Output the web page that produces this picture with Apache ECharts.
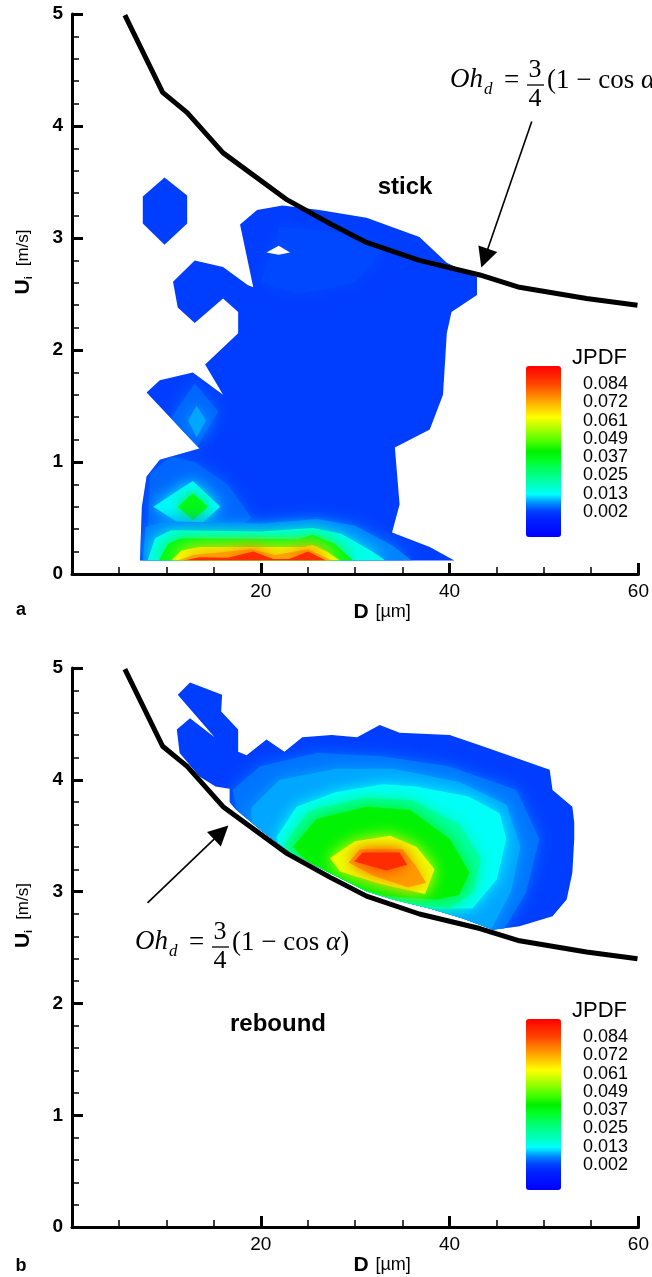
<!DOCTYPE html>
<html style="height: 100%">
<head>
    <meta charset="UTF-8">
    <script type="text/javascript" src="https://cdn.jsdelivr.net/npm/echarts/dist/echarts.min.js"></script>
</head>
<body style="height: 100%; margin: 0; background: #fff">
<div id="container" style="width: 652px; height: 1277px;"></div>
<script type="text/javascript">
// boundary Oh_d = 3/4 (1 - cos a), same curve in both panels
var boundaryD = [5.6, 9.6, 12.2, 16.0, 22.8, 27.3, 31.2, 36.8, 43.2, 47.4, 54.5, 59.9];
var boundaryU = [4.99, 4.30, 4.12, 3.76, 3.34, 3.13, 2.96, 2.80, 2.67, 2.56, 2.46, 2.40];

// legend ticks
var legendTicks = ['0.084', '0.072', '0.061', '0.049', '0.037', '0.025', '0.013', '0.002'];
var legendMin = -0.014, legendMax = 0.0955;

// ---- panel a: JPDF contour regions [D, U] ----
var aMain = [[7.2,0.12],[7.4,0.60],[7.9,0.87],[9.3,1.02],[13.5,1.12],[7.9,1.62],[9.3,1.73],[12.8,1.80],
    [16.0,1.60],[14.1,1.87],[17.6,2.15],[17.6,2.34],[16.0,2.46],[13.0,2.24],[11.2,2.38],[10.7,2.61],
    [13.0,2.80],[16.0,2.74],[18.6,2.58],[19.2,2.56],[17.8,3.12],[19.6,3.25],[22.3,3.29],[26.2,3.25],
    [31.2,3.18],[36.8,3.01],[39.7,2.78],[42.9,2.65],[42.9,2.49],[40.2,2.34],[39.7,2.15],[39.3,1.60],
    [37.9,1.29],[34.2,1.13],[34.7,0.62],[33.9,0.37],[37.9,0.24],[40.5,0.12]];
var aIsland = [[9.8,3.54],[12.2,3.38],[12.2,3.13],[9.8,2.94],[7.5,3.13],[7.5,3.37]];
var aTopLight = [[20,2.6],[22,3.1],[28,3.05],[33,2.9],[30,2.6],[24,2.5]];
var aLeftLight = [[8,0.3],[8.3,0.9],[10.5,1.05],[13,1.0],[16.5,0.8],[19,0.5],[17,0.38],[10,0.32]];
var aSpotLight = [[10.5,1.4],[13,1.7],[15.5,1.45],[13,1.1]];
var aSpot = [[12.3,1.37],[13.2,1.5],[14.2,1.37],[13.2,1.22]];
var aDiamondCyan = [[8.6,0.6],[12.8,0.83],[15.7,0.6],[12.8,0.38]];
var aDiamondGreen = [[11.2,0.6],[12.8,0.72],[14.4,0.6],[12.8,0.48]];
var aBandLight = [[7.5,0.12],[7.8,0.42],[10,0.47],[20,0.45],[26,0.49],[30,0.43],[34,0.25],[36,0.12]];
var aBandCyan = [[8.0,0.12],[8.8,0.32],[10.5,0.39],[20,0.38],[25.5,0.41],[28.5,0.36],[31.8,0.2],[33.2,0.12]];
var aBandGreen = [[9.2,0.12],[10.2,0.27],[11.6,0.32],[24,0.31],[25.5,0.35],[27.8,0.27],[29.8,0.12]];
var aBandYellow = [[10.5,0.12],[11.6,0.21],[13.5,0.24],[24.5,0.24],[25.5,0.26],[27,0.2],[28.4,0.12]];
var aBandOrange = [[11.2,0.12],[12.8,0.17],[19,0.22],[21.5,0.17],[25,0.22],[27.5,0.12]];
var aBandRed = [[11.8,0.12],[13.5,0.15],[16.5,0.145],[19.2,0.2],[21.3,0.135],[23,0.135],[25,0.2],[26.9,0.12]];
var aHole = [[20.6,2.87],[21.9,2.93],[23.1,2.87],[21.9,2.85]];

var polysA = [aMain, aIsland, aTopLight, aLeftLight, aSpotLight, aSpot, aDiamondCyan, aDiamondGreen,
    aBandLight, aBandCyan, aBandGreen, aBandYellow, aBandOrange, aBandRed];
var levelsA = [0.002, 0.002, 0.003, 0.005, 0.005, 0.009, 0.013, 0.037, 0.007, 0.015, 0.037, 0.061, 0.072, 0.088];
var clipA = [-1, -1, 0, 0, 0, 0, 0, 0, 0, 0, 0, 0, 0, 0];

// ---- panel b ----
var bMain = [[13.5,4.03],[11.4,4.24],[11.1,4.45],[12.5,4.55],[15.1,4.38],[11.2,4.76],[12.5,4.87],[15.9,4.76],
    [15.8,4.61],[17.6,4.45],[17.6,4.25],[18.5,4.22],[20.6,4.36],[22.5,4.25],[24.4,4.38],[27.5,4.40],
    [30.2,4.38],[32.6,4.49],[34.7,4.42],[40.0,4.40],[43.5,4.30],[50.6,4.09],[50.9,3.91],[53.0,3.76],
    [53.2,3.62],[53.2,3.47],[53.0,3.17],[52.4,2.93],[50.9,2.78],[47.4,2.69],[44.6,2.66],[41.4,2.76],
    [37.9,2.85],[34.0,2.93],[31.3,3.00],[27.0,3.18],[23.1,3.35],[20.0,3.55],[17.3,3.74],[16.7,3.80],
    [16.7,3.92],[15.2,3.94]];
var bLight = [[17.0,3.91],[19.9,4.12],[25.9,4.24],[32.9,4.21],[40,4.12],[47.1,3.91],[49.5,3.47],[48.1,2.99],
    [45.3,2.6],[30,2.8],[18,3.5]];
var bMid = [[19,3.75],[22,4.0],[28,4.1],[34,4.1],[41,3.98],[46,3.78],[47.5,3.4],[46.5,3.0],[44,2.6],[30,2.8],[19,3.5]];
var bCyan = [[21.7,3.49],[23.8,3.76],[28,3.89],[32.9,3.96],[36.5,3.94],[42,3.85],[45.3,3.7],[46.0,3.47],
    [45.0,3.11],[42.4,2.85],[35,2.85],[28,3.1],[22,3.35]];
var bAqua = [[22.5,3.42],[25,3.72],[31,3.84],[36,3.82],[41,3.6],[43.3,3.3],[42.5,3.0],[40,2.85],[30,2.95],[23,3.3]];
var bGreen = [[23.4,3.40],[25.9,3.65],[31.2,3.76],[35.8,3.73],[40.0,3.47],[42.1,3.17],[41,2.97],[38.6,2.93],
    [33.3,2.96],[27,3.1]];
var bYellow = [[27.3,3.30],[30,3.45],[33.7,3.5],[36.5,3.4],[38.4,3.20],[37.4,2.98],[32.6,3.07],[28.4,3.18]];
var bOrange = [[29.3,3.26],[30.5,3.38],[35,3.38],[36.5,3.22],[37.5,3.08],[35.6,3.04],[32,3.14]];
var bRed = [[29.9,3.27],[30.8,3.35],[34.7,3.35],[35.5,3.24],[33.3,3.19]];

var polysB = [bMain, bLight, bMid, bCyan, bAqua, bGreen, bYellow, bOrange, bRed];
var levelsB = [0.002, 0.006, 0.009, 0.014, 0.022, 0.04, 0.061, 0.074, 0.088];
var clipB = [-1, 0, 0, 0, 0, 0, 0, 0, 0];

var jpdfColors = ['#0000ff', '#0010ff', '#0020ff', '#0040ff', '#0090ff', '#00ffff', '#00ffc0', '#00ff90',
    '#00ff60', '#00ff20', '#00f000', '#40ff00', '#80ff00', '#c0ff00', '#ffff00', '#ffd000', '#ffa000',
    '#ff7000', '#ff4000', '#ff2000', '#ff0000'];

function toItems(levels, clips) {
    return levels.map(function (lv, i) { return [lv, i, clips[i]]; });
}

function makeRender(polys) {
    return function (params, api) {
        var idx = api.value(1), c = api.value(2);
        var pts = polys[idx].map(function (p) { return api.coord(p); });
        var color = api.visual('color');
        var el = {type: 'polygon', shape: {points: pts}, style: {fill: color}};
        if (c >= 0) {
            el.style.shadowBlur = 16;
            el.style.shadowColor = color;
            el.clipPath = {type: 'polygon', shape: {points: polys[c].map(function (p) { return api.coord(p); })}};
        }
        return el;
    };
}

function holeRender(poly) {
    return function (params, api) {
        return {type: 'polygon', shape: {points: poly.map(function (p) { return api.coord(p); })},
            style: {fill: '#fff'}};
    };
}

var boundary = boundaryD.map(function (d, i) { return [d, boundaryU[i]]; });

function xAxisOpt(gi) {
    return {
        gridIndex: gi, type: 'value', min: 0, max: 60, interval: 20,
        name: '{b|D}  {n|[µm]}', nameLocation: 'middle', nameGap: 24,
        nameTextStyle: {padding: [0, 0, 0, 54], rich: {
            b: {fontFamily: 'Liberation Sans', fontWeight: 'bold', fontSize: 21, color: '#000'},
            n: {fontFamily: 'Liberation Sans', fontSize: 18, color: '#000'}}},
        axisLine: {lineStyle: {color: '#000', width: 3}},
        axisTick: {inside: true, length: 11, lineStyle: {color: '#000', width: 3}},
        minorTick: {show: true, splitNumber: 4, length: 7, lineStyle: {color: '#000', width: 1.5}},
        splitLine: {show: false}, minorSplitLine: {show: false},
        axisLabel: {color: '#000', fontSize: 19, fontFamily: 'Liberation Sans', margin: 8,
            formatter: function (v) { return v === 0 ? '' : v; }}
    };
}

function yAxisOpt(gi) {
    return {
        gridIndex: gi, type: 'value', min: 0, max: 5, interval: 1,
        name: '{b|U}{s|i}   {n|[m/s]}', nameLocation: 'middle', nameRotate: 90, nameGap: 38,
        nameTextStyle: {padding: [0, 0, 0, 64], rich: {
            b: {fontFamily: 'Liberation Sans', fontWeight: 'bold', fontSize: 21, color: '#000'},
            s: {fontFamily: 'Liberation Sans', fontWeight: 'bold', fontSize: 11, color: '#000', verticalAlign: 'bottom'},
            n: {fontFamily: 'Liberation Sans', fontSize: 17, color: '#000'}}},
        axisLine: {lineStyle: {color: '#000', width: 3}},
        axisTick: {inside: true, length: 11, lineStyle: {color: '#000', width: 3}},
        minorTick: {show: true, splitNumber: 5, length: 7, lineStyle: {color: '#000', width: 1.5}},
        splitLine: {show: false}, minorSplitLine: {show: false},
        axisLabel: {color: '#000', fontSize: 19, fontWeight: 'bold', fontFamily: 'Liberation Sans', margin: 9}
    };
}

function visualMapOpt(si, top) {
    return {
        type: 'continuous', seriesIndex: si, dimension: 0, min: legendMin, max: legendMax,
        left: 526, top: top, itemWidth: 35, itemHeight: 171, padding: 0,
        calculable: false, hoverLink: false, showLabel: false, text: null,
        inRange: {color: jpdfColors}
    };
}

function text(x, y, str, font, align) {
    return {type: 'text', x: x, y: y, silent: true,
        style: {text: str, font: font, fill: '#000', align: align || 'center', verticalAlign: 'middle'}};
}

function legendText(top) {
    var els = [text(572, top - 8, 'JPDF', '22px "Liberation Sans"', 'left')];
    legendTicks.forEach(function (t, i) {
        els.push(text(583, top + 18 + i * 18.3, t, '18px "Liberation Sans"', 'left'));
    });
    return els;
}

function formula(x, y) {
    var serif = '"Liberation Serif", "DejaVu Serif", serif';
    return {
        type: 'group', x: x, y: y, silent: true,
        children: [
            {type: 'text', x: 0, y: -4, style: {text: 'Oh', font: 'italic 27px ' + serif, fill: '#000', verticalAlign: 'middle'}},
            {type: 'text', x: 34, y: 6, style: {text: 'd', font: 'italic 17px ' + serif, fill: '#000', verticalAlign: 'middle'}},
            {type: 'text', x: 54, y: -3, style: {text: '=', font: '27px ' + serif, fill: '#000', verticalAlign: 'middle'}},
            {type: 'text', x: 85, y: -14, style: {text: '3', font: '26px ' + serif, fill: '#000', align: 'center', verticalAlign: 'middle'}},
            {type: 'line', shape: {x1: 77, y1: 1, x2: 94, y2: 1}, style: {stroke: '#000', lineWidth: 1.3}},
            {type: 'text', x: 85, y: 15, style: {text: '4', font: '26px ' + serif, fill: '#000', align: 'center', verticalAlign: 'middle'}},
            {type: 'text', x: 97, y: -3, style: {text: '(1 − cos {a|α})', font: '27px ' + serif, fill: '#000', verticalAlign: 'middle',
                rich: {a: {fontStyle: 'italic', fontSize: 27, fontFamily: 'Liberation Serif'}}}}
        ]
    };
}

function arrowLine(from, to) {
    return {
        silent: true, symbol: ['none', 'triangle'], symbolSize: 20,
        lineStyle: {color: '#000', width: 1.6, type: 'solid'}, itemStyle: {color: '#000'},
        label: {show: false},
        data: [[{coord: from}, {coord: to}]]
    };
}

var option = {
    animation: false,
    backgroundColor: '#fff',
    grid: [
        {left: 72, top: 14, right: 13, height: 560, containLabel: false},
        {left: 72, top: 668, right: 13, height: 561, containLabel: false}
    ],
    xAxis: [xAxisOpt(0), xAxisOpt(1)],
    yAxis: [yAxisOpt(0), yAxisOpt(1)],
    visualMap: [visualMapOpt(0, 366), visualMapOpt(1, 1019)],
    series: [
        {type: 'custom', xAxisIndex: 0, yAxisIndex: 0, renderItem: makeRender(polysA),
            data: toItems(levelsA, clipA), silent: true, z: 2},
        {type: 'custom', xAxisIndex: 1, yAxisIndex: 1, renderItem: makeRender(polysB),
            data: toItems(levelsB, clipB), silent: true, z: 2},
        {type: 'custom', xAxisIndex: 0, yAxisIndex: 0, renderItem: holeRender(aHole),
            data: [[0, 0]], silent: true, z: 3},
        {type: 'line', xAxisIndex: 0, yAxisIndex: 0, data: boundary, symbol: 'none', z: 5,
            lineStyle: {color: '#000', width: 5}, silent: true,
            markLine: arrowLine([48.7, 4.04], [43.7, 2.82])},
        {type: 'line', xAxisIndex: 1, yAxisIndex: 1, data: boundary, symbol: 'none', z: 5,
            lineStyle: {color: '#000', width: 5}, silent: true,
            markLine: arrowLine([8.0, 2.90], [15.8, 3.53])}
    ],
    graphic: [].concat(
        [
            text(405, 187, 'stick', 'bold 24px "Liberation Sans"'),
            text(277, 370, 'rebound', 'bold 28px "Liberation Sans"'),
            text(407, 840, 'stick', 'bold 29px "Liberation Sans"'),
            text(278, 1024, 'rebound', 'bold 24px "Liberation Sans"'),
            text(21, 610, 'a', 'bold 18px "Liberation Sans"'),
            text(21, 1266, 'b', 'bold 18px "Liberation Sans"'),
            formula(450, 84),
            formula(135, 946)
        ],
        legendText(366),
        legendText(1019)
    )
};

var myChart = echarts.init(document.getElementById('container'));
myChart.setOption(option);
</script>
</body>
</html>
